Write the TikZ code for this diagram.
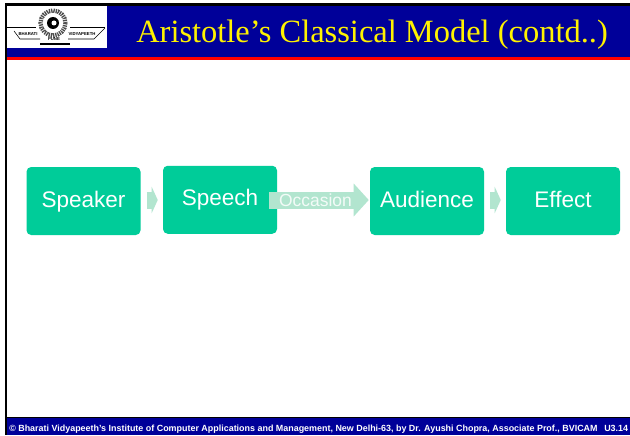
\documentclass[tikz,border=0pt]{standalone}
\usepackage{fontspec}
\setmainfont{Liberation Serif}
\setsansfont{Liberation Sans}
\usetikzlibrary{arrows.meta,positioning}
\definecolor{bandblue}{HTML}{000099}
\definecolor{boxgreen}{HTML}{00CC99}
\definecolor{arrowgreen}{HTML}{B2E5CF}
\tikzstyle{stagebox} = [fill=boxgreen,text=white,rounded corners=3.5pt,minimum width=85.5pt,minimum height=51pt,inner sep=0pt,text height=12.5pt,text depth=3.5pt,font=\sffamily\fontsize{16.9}{20}\selectfont]
\tikzstyle{smallarrow} = [arrowgreen,line width=12.75pt,-{Triangle[length=4.5pt,width=19.5pt]}]
\tikzstyle{bigarrow} = [arrowgreen,line width=12.75pt,-{Triangle[length=11.25pt,width=24pt]}]
\tikzstyle{logotext} = [inner sep=0pt,font=\sffamily\bfseries\fontsize{3.2}{4}\selectfont]
\tikzstyle{footertext} = [anchor=base west,inner sep=0pt,text=white,font=\sffamily\bfseries\fontsize{6.7}{8}\selectfont]

\begin{document}
\begin{tikzpicture}[x=0.75pt,y=-0.75pt]
        \useasboundingbox (0,0) rectangle (630,435);
        \fill[white] (0,0) rectangle (630,435);
        % frame
        \fill[black] (5,3) rectangle (630,6);
        \fill[black] (5,3) rectangle (7,435);
        % title band
        \fill[bandblue] (7,6) rectangle (630,57);
        \fill[red] (7,57) rectangle (630,60);
        \node[anchor=base west,inner sep=0pt,text=yellow,font=\fontsize{24.35}{30}\selectfont] (title) at (136,43) {Aristotle's Classical Model (contd..)};
        % logo
        \fill[white] (7,6) rectangle (107,48);
        \draw[black,line width=0.5pt] (7,27.5) -- (36,27.5) (70,27.5) -- (105,27.5);
        \draw[black,line width=0.4pt] (14,31) -- (20,39) -- (40,39) (105,28) -- (94,39) -- (68,39);
        \draw[black,line width=1.3pt] (40,44) -- (70,44);
        \draw[black!70,line width=3.2pt,dash pattern=on 1pt off 0.7pt] (53,23) circle (12.5);
        \fill[white] (53,23) circle (9);
        \fill[black] (53,23) circle (6);
        \fill[white] (54,23) circle (2.5);
        \node[logotext] (bharati) at (28,34) {BHARATI};
        \node[logotext] (vidyapeeth) at (82,34) {VIDYAPEETH};
        \node[logotext] (pune) at (54,39.5) {PUNE};
        % footer
        \fill[black] (7,417) rectangle (630,418);
        \fill[bandblue] (7,418) rectangle (630,435);
        \node[footertext] (footer) at (9,431) {\textcopyright{} Bharati Vidyapeeth's Institute of Computer Applications and Management, New Delhi-63, by Dr. Ayushi Chopra, Associate Prof., BVICAM};
        \node[footertext] (page) at (604,431) {U3.14};
        % stages
        \node[stagebox] (speaker) at (83.5,201) {Speaker};
        \node[stagebox] (speech) at (220,199.75) {Speech};
        \node[stagebox] (audience) at (427,201) {Audience};
        \node[stagebox] (effect) at (563,201) {Effect};
        \coordinate (axis) at (0,200);
        % arrows
        \draw[smallarrow,shorten <=4.5pt,shorten >=3.75pt] (speaker.east |- axis) -- (speech.west |- axis);
        \draw[smallarrow,shorten <=4.5pt,shorten >=3.75pt] (audience.east |- axis) -- (effect.west |- axis);
        \draw[bigarrow,shorten <=-6pt,shorten >=0.75pt] (speech.east |- axis) -- (audience.west |- axis);
        \node[text=white,opacity=0.85,inner sep=0pt,font=\sffamily\fontsize{13.1}{16}\selectfont] (occasion) at (315.5,200) {Occasion};
    \end{tikzpicture}
\end{document}
